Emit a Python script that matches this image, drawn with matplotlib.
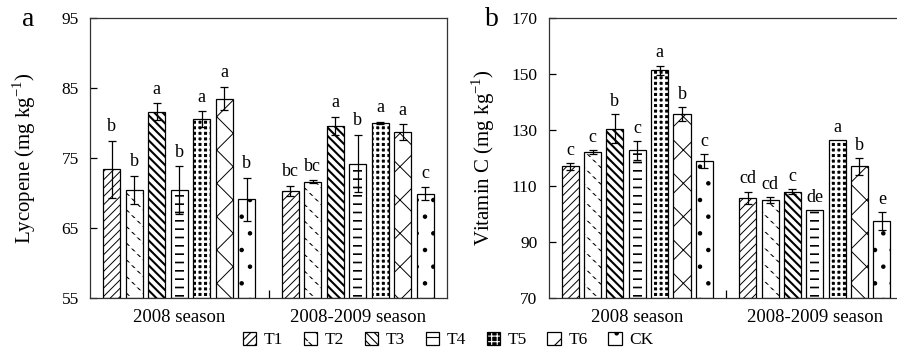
import matplotlib
matplotlib.use("Agg")
import matplotlib.pyplot as plt
from matplotlib.patches import Patch
import numpy as np

plt.rcParams['font.family'] = ['Liberation Serif', 'DejaVu Serif']
plt.rcParams['mathtext.fontset'] = 'custom'
plt.rcParams['mathtext.rm'] = 'Liberation Serif'
plt.rcParams['hatch.linewidth'] = 0.8

# 数据
seasons = ["2008 season", "2008-2009 season"]
treatments = ["T1", "T2", "T3", "T4", "T5", "T6", "CK"]

lyc_2008 = [73.4, 70.5, 81.6, 70.4, 80.6, 83.5, 69.1]
lyc_2008_err = [4.1, 2.0, 1.2, 3.4, 1.1, 1.7, 3.1]
lyc_0809 = [70.3, 71.6, 79.6, 74.2, 80.0, 78.7, 69.9]
lyc_0809_err = [0.7, 0.2, 1.3, 4.1, 0.2, 1.1, 0.9]
lyc_let_2008 = ["b", "b", "a", "b", "a", "a", "b"]
lyc_let_0809 = ["bc", "bc", "a", "b", "a", "a", "c"]

vc_2008 = [117.0, 122.0, 130.5, 122.7, 151.3, 135.7, 119.0]
vc_2008_err = [1.2, 0.7, 5.3, 3.3, 1.7, 2.6, 2.5]
vc_0809 = [105.7, 105.1, 108.0, 101.5, 126.3, 117.0, 97.4]
vc_0809_err = [2.3, 1.0, 1.0, 0.0, 0.0, 3.0, 3.2]
vc_let_2008 = ["c", "c", "b", "c", "a", "b", "c"]
vc_let_0809 = ["cd", "cd", "c", "de", "a", "b", "e"]

# 每种处理的填充层: (hatch, 颜色, 线宽, 底色, 宽度比例)
layers = [
    [("////", "black", 0.7, "white", 1.0)],
    [("\\\\", "black", 0.8, "white", 1.0), ("---", "white", 2.0, "none", 1.0)],
    [("\\\\\\\\", "black", 1.5, "white", 1.0)],
    [("--", "black", 1.2, "white", 0.5)],
    [("+++", "white", 1.8, "black", 1.0)],
    [("x", "black", 0.7, "white", 1.0)],
    [(".", "black", 0.8, "white", 1.0)],
]

W, H = 897, 353
fig = plt.figure(figsize=(W / 100, H / 100), dpi=100)
ax_a = fig.add_axes([90 / W, 55 / H, 357 / W, 280 / H])
ax_b = fig.add_axes([548.5 / W, 55 / H, 355 / W, 280 / H])

centers = np.array([0.5, 1.5])
step = 0.126
bw = 0.096


def set_hlw(patches, lw):
    for p in patches:
        if hasattr(p, "set_hatch_linewidth"):
            p.set_hatch_linewidth(lw)


def draw_bar(ax, x, v, y0, i):
    for hatch, hc, hlw, face, frac in layers[i]:
        if face != "none":
            ax.bar(x, v - y0, bw, bottom=y0, color=face, linewidth=0, zorder=1.5)
        b = ax.bar(x, v - y0, bw * frac, bottom=y0, color="none",
                   edgecolor=hc, hatch=hatch, linewidth=0, zorder=2)
        set_hlw(b, hlw)
    ax.bar(x, v - y0, bw, bottom=y0, color="none", edgecolor="black",
           linewidth=0.9, zorder=3)


def draw_panel(ax, groups, errs, letters, ylim, yticks, ylabel, off):
    for g, (vals, er, lets) in enumerate(zip(groups, errs, letters)):
        for i in range(7):
            x = centers[g] + (i - 3) * step
            v = vals[i]
            draw_bar(ax, x, v, ylim[0], i)
            if er[i] > 0:
                ax.errorbar(x, v, yerr=er[i], fmt="none", ecolor="black",
                            elinewidth=0.9, capsize=3, capthick=0.9, zorder=4)
            ax.annotate(lets[i], (x, v + er[i]), xytext=(0, off), textcoords="offset points",
                        ha="center", va="bottom", fontsize=13)
    ax.set_xlim(0, 2)
    ax.set_ylim(*ylim)
    ax.set_yticks(yticks)
    ax.set_xticks(centers)
    ax.set_xticklabels(seasons, fontsize=13.5)
    ax.set_xticks([1.0], minor=True)
    ax.tick_params(axis="x", which="major", length=0, pad=8)
    ax.tick_params(axis="x", which="minor", direction="in", length=6, width=0.9)
    ax.tick_params(axis="y", direction="in", length=5, width=0.9, labelsize=12.5, pad=8)
    ax.set_ylabel(ylabel, fontsize=15)
    for s in ax.spines.values():
        s.set_linewidth(0.9)
        s.set_color("#333333")


draw_panel(ax_a, [lyc_2008, lyc_0809], [lyc_2008_err, lyc_0809_err],
           [lyc_let_2008, lyc_let_0809], (55, 95), [55, 65, 75, 85, 95],
           "Lycopene (mg kg$^{\\mathregular{-1}}$)", 4)
draw_panel(ax_b, [vc_2008, vc_0809], [vc_2008_err, vc_0809_err],
           [vc_let_2008, vc_let_0809], (70, 170), [70, 90, 110, 130, 150, 170],
           "Vitamin C (mg kg$^{\\mathregular{-1}}$)", 3)
ax_a.yaxis.set_label_coords(-0.146, 0.5)
ax_b.yaxis.set_label_coords(-0.145, 0.5)

fig.text(28 / W, 1 - 20 / H, "a", fontsize=20, ha="center", va="center")
fig.text(492 / W, 1 - 20 / H, "b", fontsize=20, ha="center", va="center")

handles = []
for i, t in enumerate(treatments):
    parts = []
    for hatch, hc, hlw, face, frac in layers[i]:
        if face != "none":
            parts.append(Patch(facecolor=face, linewidth=0))
        p = Patch(facecolor="none", edgecolor=hc, hatch=hatch, linewidth=0)
        set_hlw([p], hlw)
        parts.append(p)
    parts.append(Patch(facecolor="none", edgecolor="black", linewidth=0.9))
    handles.append(tuple(parts))
fig.legend(handles=handles, labels=treatments, loc="center",
           bbox_to_anchor=(448 / W, 1 - 340 / H), ncol=7,
           frameon=False, fontsize=12.5, handlelength=0.8, handleheight=0.8,
           handletextpad=0.4, columnspacing=1.2, borderpad=0)

fig.savefig("out.png", dpi=100)
